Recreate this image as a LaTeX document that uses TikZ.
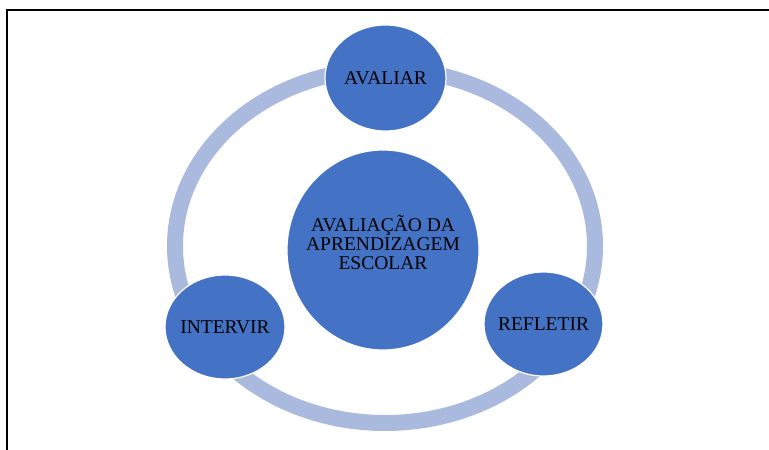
\documentclass[tikz,border=0pt]{standalone}
\usepackage{fontspec}
\setmainfont{Liberation Serif}
\usetikzlibrary{shapes.geometric}
\definecolor{bubblue}{RGB}{68,114,196}
\definecolor{ringblue}{RGB}{170,185,222}

\begin{document}
\begin{tikzpicture}[x=1pt,y=-1pt,font=\fontsize{19.5}{19}\selectfont,
    bub/.style={ellipse,fill=bubblue,draw=white,line width=1.2pt,inner sep=0pt}]
        \useasboundingbox (0,0) rectangle (769,450);
        \draw[line width=1.8pt] (7,452) -- (7,10) -- (771,10);
        \node(R)[ellipse,draw=ringblue,line width=16pt,minimum width=420pt,minimum height=354pt] at (385,246) {};
        \node(A)[bub,minimum width=121pt,minimum height=106pt,label=center:AVALIAR] at (385.5,78) {};
        \node(B)[bub,minimum width=119pt,minimum height=104pt,label=center:REFLETIR] at (543.5,324) {};
        \node(C)[bub,minimum width=120pt,minimum height=104pt,label=center:INTERVIR] at (225,327) {};
        \node(D)[bub,minimum width=192pt,minimum height=200pt,
            label={[align=center,yshift=8pt]center:AVALIAÇÃO DA\\APRENDIZAGEM\\ESCOLAR}] at (383,250) {};
    \end{tikzpicture}
\end{document}
